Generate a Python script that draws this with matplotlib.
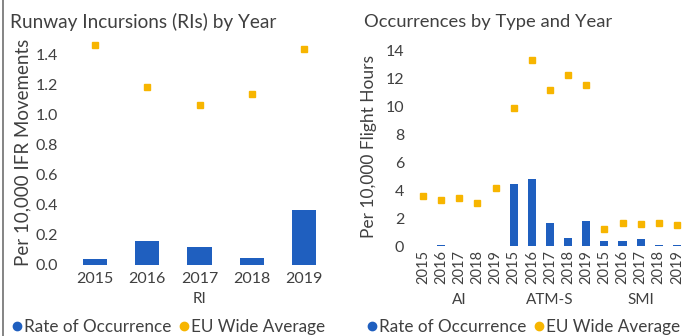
import matplotlib
matplotlib.use("Agg")
import matplotlib.pyplot as plt
import matplotlib.transforms as mtransforms
from matplotlib.lines import Line2D
import numpy as np

plt.rcParams['font.family'] = ['Lato', 'DejaVu Sans']

# Runway incursions per 10,000 IFR movements
ri_years = ["2015", "2016", "2017", "2018", "2019"]
ri_rate = [0.04, 0.16, 0.12, 0.05, 0.37]
ri_eu_avg = [1.47, 1.19, 1.07, 1.14, 1.44]

# Occurrences per 10,000 flight hours, grouped by type
occ_types = ["AI", "ATM-S", "SMI"]
occ_years = ["2015", "2016", "2017", "2018", "2019"]
ai_rate = [0.03, 0.05, 0.02, 0.01, 0.02]
ai_eu_avg = [3.55, 3.3, 3.42, 3.05, 4.17]
atms_rate = [4.43, 4.82, 1.68, 0.57, 1.8]
atms_eu_avg = [9.84, 13.33, 11.14, 12.2, 11.5]
smi_rate = [0.36, 0.36, 0.49, 0.1, 0.06]
smi_eu_avg = [1.2, 1.68, 1.6, 1.68, 1.52]

BAR = '#1f5fbf'
DOT = '#f7b500'
TXT = '#404040'

fig = plt.figure(figsize=(6.85, 3.36), dpi=100)
W, H = 685, 336


def px_axes(x0, x1, ytop, ybot):
    return fig.add_axes([x0 / W, (H - ybot) / H, (x1 - x0) / W, (ybot - ytop) / H])


def style(ax):
    for s in ax.spines.values():
        s.set_visible(False)
    ax.tick_params(length=0, colors=TXT, labelsize=11.5)


def legend(cx):
    handles = [
        Line2D([], [], ls='none', marker='o', ms=6, color=BAR),
        Line2D([], [], ls='none', marker='o', ms=6, color=DOT),
    ]
    fig.legend(handles, ["Rate of Occurrence", "EU Wide Average"],
               loc='center', bbox_to_anchor=(cx / W, (H - 327) / H),
               ncol=2, frameon=False, fontsize=12.3, handlelength=0.5,
               handletextpad=0.2, columnspacing=0.45, labelcolor=TXT,
               borderpad=0, borderaxespad=0)


# Left panel: runway incursions
ax1 = px_axes(69, 330, 40, 265)
style(ax1)
x1 = np.arange(len(ri_years))
ax1.bar(x1, ri_rate, width=0.46, color=BAR, zorder=2)
ax1.plot(x1, ri_eu_avg, ls='none', marker='s', ms=4.5, color=DOT, zorder=3)
ax1.set_xlim(-0.5, len(ri_years) - 0.5)
ax1.set_ylim(0, 1.5)
ax1.set_yticks(np.arange(0, 1.41, 0.2))
ax1.set_yticklabels([f"{v:.1f}" for v in np.arange(0, 1.41, 0.2)])
ax1.set_xticks(x1)
ax1.set_xticklabels(ri_years)
ax1.tick_params(axis='x', pad=5)
ax1.tick_params(axis='y', pad=8)
ax1.set_ylabel("Per 10,000 IFR Movements", fontsize=13.5, color=TXT, labelpad=3)
ax1.text(0.5, -0.15, "RI", transform=ax1.transAxes, ha='center', va='center',
         fontsize=11, color=TXT)
fig.text(10 / W, (H - 22) / H, "Runway Incursions (RIs) by Year",
         fontsize=13.7, color=TXT, ha='left', va='center')
legend(169)

# Right panel: occurrences by type
ax2 = px_axes(414, 686, 46, 246)
style(ax2)
rates = ai_rate + atms_rate + smi_rate
avgs = ai_eu_avg + atms_eu_avg + smi_eu_avg
x2 = np.arange(len(rates))
ax2.bar(x2, rates, width=0.45, color=BAR, zorder=2)
ax2.plot(x2, avgs, ls='none', marker='s', ms=4.5, color=DOT, zorder=3)
ax2.set_xlim(-0.5, len(rates) - 0.5)
ax2.set_ylim(0, 14.3)
ax2.set_yticks(np.arange(0, 15, 2))
ax2.set_xticks(x2)
ax2.set_xticklabels(occ_years * len(occ_types), rotation=90, fontsize=10.5)
ax2.tick_params(axis='x', pad=3)
ax2.tick_params(axis='y', pad=7)
ax2.set_ylabel("Per 10,000 Flight Hours", fontsize=12.5, color=TXT, labelpad=6)
trans = mtransforms.blended_transform_factory(ax2.transData, ax2.transAxes)
for i, t in enumerate(occ_types):
    ax2.text(i * 5 + 2, -0.27, t, transform=trans, ha='center', va='center',
             fontsize=11, color=TXT)
fig.text(364 / W, (H - 22) / H, "Occurrences by Type and Year",
         fontsize=13.2, color=TXT, ha='left', va='center')
legend(524)

# Frame line on the left edge
fig.add_artist(Line2D([3 / W, 3 / W], [0, 1], transform=fig.transFigure,
                      color='#707070', lw=1.2))

fig.savefig("out.png", dpi=100, facecolor='white')
